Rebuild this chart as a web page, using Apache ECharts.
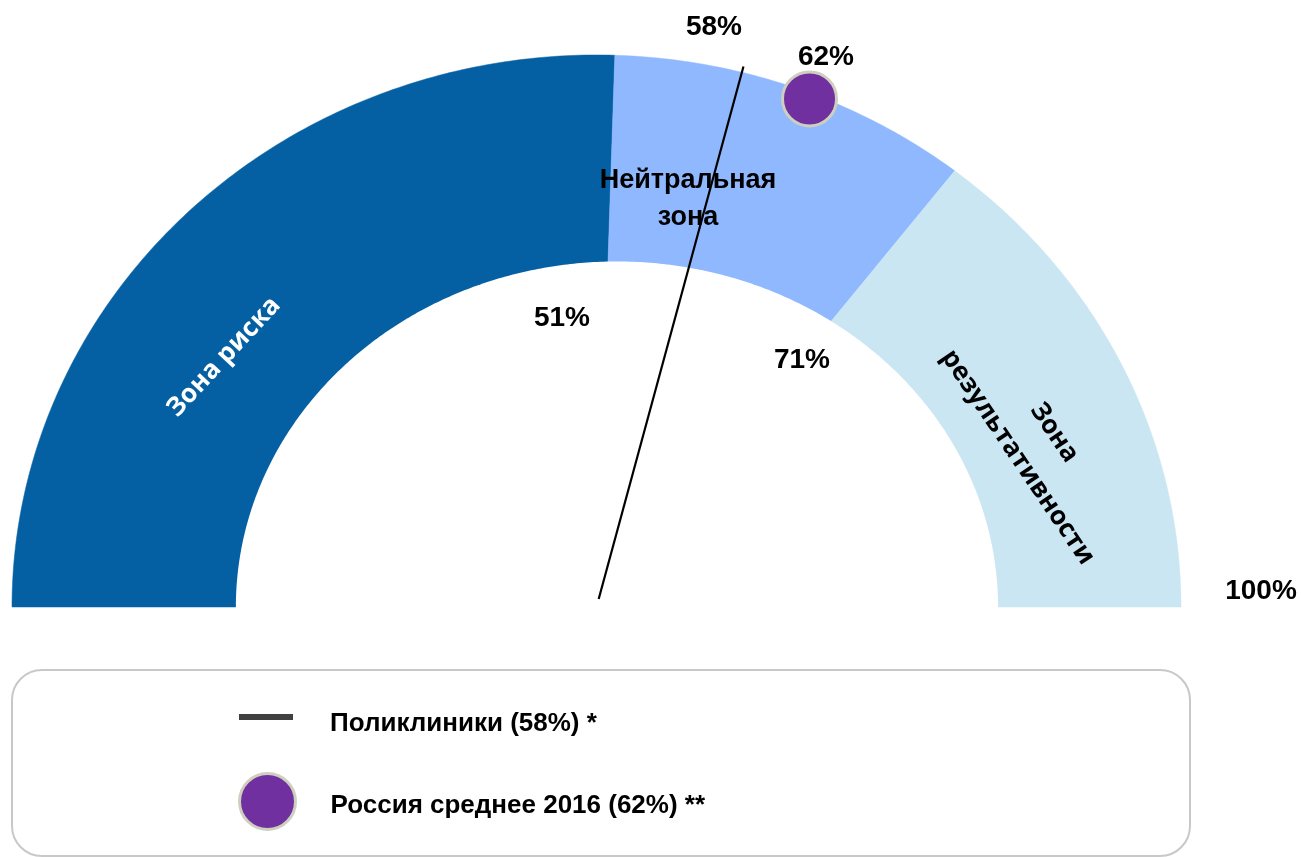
<!DOCTYPE html>
<html><head><meta charset="utf-8">
<script src="https://cdn.jsdelivr.net/npm/echarts@6/dist/echarts.min.js"></script>
<style>html,body{margin:0;padding:0;background:#fff}#c{width:1302px;height:857px}</style>
</head><body><div id="c"></div>
<script>
// ---- data ----
const zoneNames = ['Зона риска', 'Нейтральная зона', 'Зона результативности'];
const zoneFrom = [0, 51, 71];
const zoneTo = [51, 71, 100];
const boundaryLabels = ['51%', '71%', '100%'];
const polyclinicName = 'Поликлиники (58%) *';
const polyclinicValue = 58;
const polyclinicLabel = '58%';
const russiaName = 'Россия среднее 2016 (62%) **';
const russiaValue = 62;
const russiaLabel = '62%';

// ---- style ----
const zoneColors = ['#0560A3', '#8FB8FF', '#CBE6F3'];
const HOLE = { cx: 0.035, a: 0.652, b: 0.626 };
const FONT = '"Liberation Sans", Arial, sans-serif';
const FONT2 = '"Open Sans", sans-serif';

function toXY(pct, r) {
  const a = Math.PI * (1 - pct / 100);
  return [r * Math.cos(a), r * Math.sin(a)];
}

const chart = echarts.init(document.getElementById('c'), null, { renderer: 'canvas' });
const zoneData = zoneNames.map((n, i) => ({ name: n, value: [zoneFrom[i], zoneTo[i], i] }));

function txt(text, x, y, size, opts) {
  opts = opts || {};
  return {
    type: 'text', x: x, y: y, z: 100, rotation: opts.rot || 0,
    style: {
      text: text, x: 0, y: 0,
      fontSize: size, fontWeight: opts.weight || 'bold', fontFamily: opts.family || FONT,
      fill: opts.color || '#000',
      align: 'center', verticalAlign: 'middle', textAlign: 'center', textVerticalAlign: 'middle',
      lineHeight: opts.lh || size * 1.2
    }
  };
}

function legendText(shiftDown, leftGap) {
  return {
    fontSize: 26, fontWeight: 'bold', fontFamily: FONT, color: '#000', padding: [0, 0, 0, leftGap],
    rich: { t: { fontSize: 26, fontWeight: 'bold', fontFamily: FONT, color: '#000', padding: [shiftDown * 2, 0, 0, 0] } }
  };
}

const option = {
  animation: false,
  backgroundColor: '#fff',
  grid: { left: 12, right: 121, top: 55, bottom: 250 },
  xAxis: { type: 'value', min: -1, max: 1, show: false },
  yAxis: { type: 'value', min: 0, max: 1, show: false },
  legend: [
    {
      left: 239, top: 711, padding: 0, orient: 'vertical',
      itemWidth: 54, itemHeight: 6, icon: 'rect',
      data: [{ name: polyclinicName, itemStyle: { color: '#404040' } }],
      formatter: '{t|{name}}',
      textStyle: legendText(7, 32),
      selectedMode: false
    },
    {
      left: 238, top: 772, padding: 0, orient: 'vertical',
      itemWidth: 56, itemHeight: 56, icon: 'circle',
      data: [{ name: russiaName, itemStyle: { color: '#7030A0', borderColor: '#CFCFBF', borderWidth: 3 } }],
      formatter: '{t|{name}}',
      textStyle: legendText(4, 30),
      selectedMode: false
    }
  ],
  series: [
    {
      type: 'custom', name: 'zones', data: zoneData, silent: true, z: 1,
      renderItem: function (params, api) {
        const from = api.value(0), to = api.value(1), idx = api.value(2);
        const pts = [api.coord([0, 0])];
        const steps = Math.max(4, Math.ceil((to - from) * 3));
        for (let i = 0; i <= steps; i++) {
          const p = from + (to - from) * i / steps;
          pts.push(api.coord(toXY(p, 1)));
        }
        return { type: 'polygon', shape: { points: pts }, style: { fill: zoneColors[idx], stroke: zoneColors[idx], lineWidth: 0.5 } };
      }
    },
    {
      type: 'custom', name: 'hole', data: [[0]], silent: true, z: 2,
      renderItem: function (params, api) {
        const pts = [];
        for (let i = 0; i <= 360; i++) {
          const a = Math.PI * i / 360;
          pts.push(api.coord([HOLE.cx + HOLE.a * Math.cos(a), HOLE.b * Math.sin(a)]));
        }
        pts.push(api.coord([HOLE.cx - HOLE.a, -0.02]));
        pts.push(api.coord([HOLE.cx + HOLE.a, -0.02]));
        return { type: 'polygon', shape: { points: pts }, style: { fill: '#fff' } };
      }
    },
    {
      type: 'line', name: polyclinicName, z: 5, clip: false, symbol: 'none', silent: true,
      data: [toXY(polyclinicValue, 0.015), toXY(polyclinicValue, 1.011)],
      lineStyle: { color: '#000', width: 2.2 },
      itemStyle: { color: '#404040' }
    },
    {
      type: 'scatter', name: russiaName, z: 6, clip: false, silent: true,
      data: [toXY(russiaValue, 0.99)],
      symbolSize: 54,
      itemStyle: { color: '#7030A0', borderColor: '#CFCFBF', borderWidth: 3, opacity: 1 }
    }
  ],
  graphic: [
    { type: 'rect', z: 0, shape: { x: 12, y: 670, width: 1178, height: 186, r: 30 },
      style: { fill: 'none', stroke: '#C8C8C8', lineWidth: 2 } },
    txt(polyclinicLabel, 714, 27, 28),
    txt(russiaLabel, 826, 57, 28),
    txt(boundaryLabels[0], 562, 318, 28),
    txt(boundaryLabels[1], 802, 360, 28),
    txt(boundaryLabels[2], 1261, 591, 28),
    txt('Нейтральная\nзона', 688, 199, 27, { lh: 37 }),
    txt(zoneNames[0], 224, 357, 26, { family: FONT2, color: '#fff', rot: 47 * Math.PI / 180 }),
    txt('Зона\nрезультативности', 1036, 445, 26, { family: FONT2, weight: 'bold', lh: 44, rot: -56 * Math.PI / 180 })
  ]
};
chart.setOption(option);
</script>
</body></html>
